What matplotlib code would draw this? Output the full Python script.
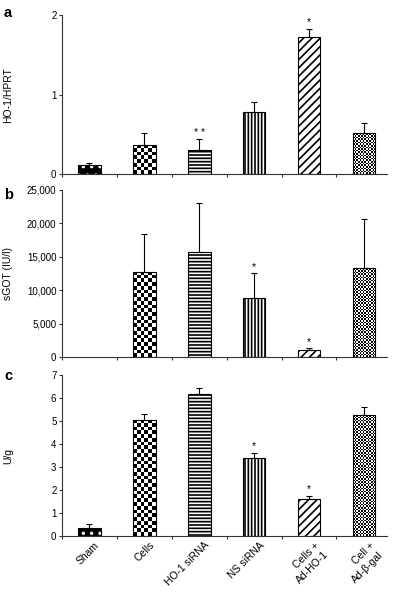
import numpy as np
import matplotlib
matplotlib.use("Agg")
import matplotlib.pyplot as plt
from matplotlib.transforms import ScaledTranslation

plt.rcParams['font.family'] = ['Liberation Sans', 'DejaVu Sans']
plt.rcParams['hatch.linewidth'] = 1.2

# data
groups = ['Sham', 'Cells', 'HO-1 siRNA', 'NS siRNA', 'Cells +\nAd-HO-1', 'Cell +\nAd-β-gal']

a_vals = [0.12, 0.37, 0.31, 0.78, 1.72, 0.52]
a_err = [0.02, 0.15, 0.13, 0.13, 0.11, 0.13]
a_sig = ['', '', '* *', '', '*', '']

b_vals = [None, 12750, 15800, 8850, 1100, 13400]
b_err = [None, 5650, 7300, 3750, 300, 7300]
b_sig = ['', '', '', '*', '*', '']

c_vals = [0.35, 5.05, 6.16, 3.41, 1.62, 5.24]
c_err = [0.18, 0.27, 0.28, 0.22, 0.14, 0.37]
c_sig = ['', '', '', '*', '*', '']

# fill style per group
fills = ['dots', 'checker', '-----', '|||||', '////', 'finechecker']

W, H = 406, 596
fig = plt.figure(figsize=(W / 100, H / 100), dpi=100)

left = 62 / W
width = 325 / W
panels = [
    (a_vals, a_err, a_sig, 'HO-1/HPRT', (0, 2), [0, 1, 2], ['0', '1', '2'], 'a', 15, 174.3, 17),
    (b_vals, b_err, b_sig, 'sGOT (IU/l)', (0, 25000), [0, 5000, 10000, 15000, 20000, 25000],
     ['0', '5,000', '10,000', '15,000', '20,000', '25,000'], 'b', 190, 357.3, 199),
    (c_vals, c_err, c_sig, 'U/g', (0, 7), list(range(8)), [str(i) for i in range(8)], 'c', 375, 536, 380),
]

bw = 0.41
for k, (vals, errs, sigs, ylab, ylim, yt, ytl, letter, top_px, bot_px, let_y) in enumerate(panels):
    ax = fig.add_axes([left, 1 - bot_px / H, width, (bot_px - top_px) / H])
    ax.set_xlim(-0.5, 5.42)
    ax.set_ylim(*ylim)

    for i, (v, e, f) in enumerate(zip(vals, errs, fills)):
        if v is None:
            continue
        if f == 'dots':
            ax.bar(i, v, bw, color='black', edgecolor='white', hatch='..', linewidth=0, zorder=2)
            ax.bar(i, v, bw, fill=False, edgecolor='black', linewidth=0.8, zorder=3)
        elif f in ('checker', 'finechecker'):
            b = ax.bar(i, v, bw, edgecolor='black', linewidth=0.8, zorder=3, fill=False)[0]
            sq = 3.7 if f == 'checker' else 1.6
            p0 = ax.transData.transform((i - bw / 2, 0))
            p1 = ax.transData.transform((i + bw / 2, v))
            nx = max(1, int(round((p1[0] - p0[0]) / sq)))
            ny = max(1, int(round((p1[1] - p0[1]) / sq)))
            grid = np.indices((ny, nx)).sum(axis=0) % 2
            im = ax.imshow(grid, cmap='gray', extent=(i - bw / 2, i + bw / 2, 0, v),
                           aspect='auto', interpolation='nearest', zorder=2, origin='lower')
            im.set_clip_path(b)
        else:
            ax.bar(i, v, bw, color='white', edgecolor='black', hatch=f, linewidth=0.8, zorder=2)
        ax.errorbar(i, v, yerr=[[0], [e]], fmt='none', ecolor='black', elinewidth=0.8,
                    capsize=2, capthick=0.8, zorder=4)
        if sigs[i]:
            ax.annotate(sigs[i], (i, v + e), xytext=(0, 2.4), textcoords='offset points',
                        ha='center', va='baseline', fontsize=7.5)

    ax.set_xlim(-0.5, 5.42)
    ax.set_ylim(*ylim)
    for s in ('top', 'right'):
        ax.spines[s].set_visible(False)
    for s in ('left', 'bottom'):
        ax.spines[s].set_color('#333333')
        ax.spines[s].set_linewidth(0.8)
    ax.set_yticks(yt)
    ax.set_yticklabels(ytl, fontsize=7)
    ax.tick_params(axis='y', direction='out', length=2.5, width=0.8, color='#333333', pad=1.5)
    ax.set_xticks(np.arange(6))
    ax.set_xticks(np.arange(-0.5, 5.5, 1), minor=True)
    ax.tick_params(axis='x', which='major', length=0)
    ax.tick_params(axis='x', which='minor', direction='out', length=2.5, width=0.8, color='#333333')
    if k == 2:
        ax.set_xticklabels(groups, rotation=45, ha='right', rotation_mode='anchor',
                           fontsize=7.5, linespacing=1.4)
        ax.tick_params(axis='x', which='major', pad=3)
        shift = ScaledTranslation(5 / 100, 0, fig.dpi_scale_trans)
        for lbl in ax.get_xticklabels():
            lbl.set_transform(lbl.get_transform() + shift)
    else:
        ax.set_xticklabels([])
    ax.set_ylabel(ylab, fontsize=7.5)
    ax.yaxis.set_label_coords(-(62 - 13) / 325, 0.5)
    fig.text(4 / W, 1 - let_y / H, letter, fontsize=10.5, fontweight='bold',
             ha='left', va='baseline')

fig.savefig('out.png', dpi=100)
